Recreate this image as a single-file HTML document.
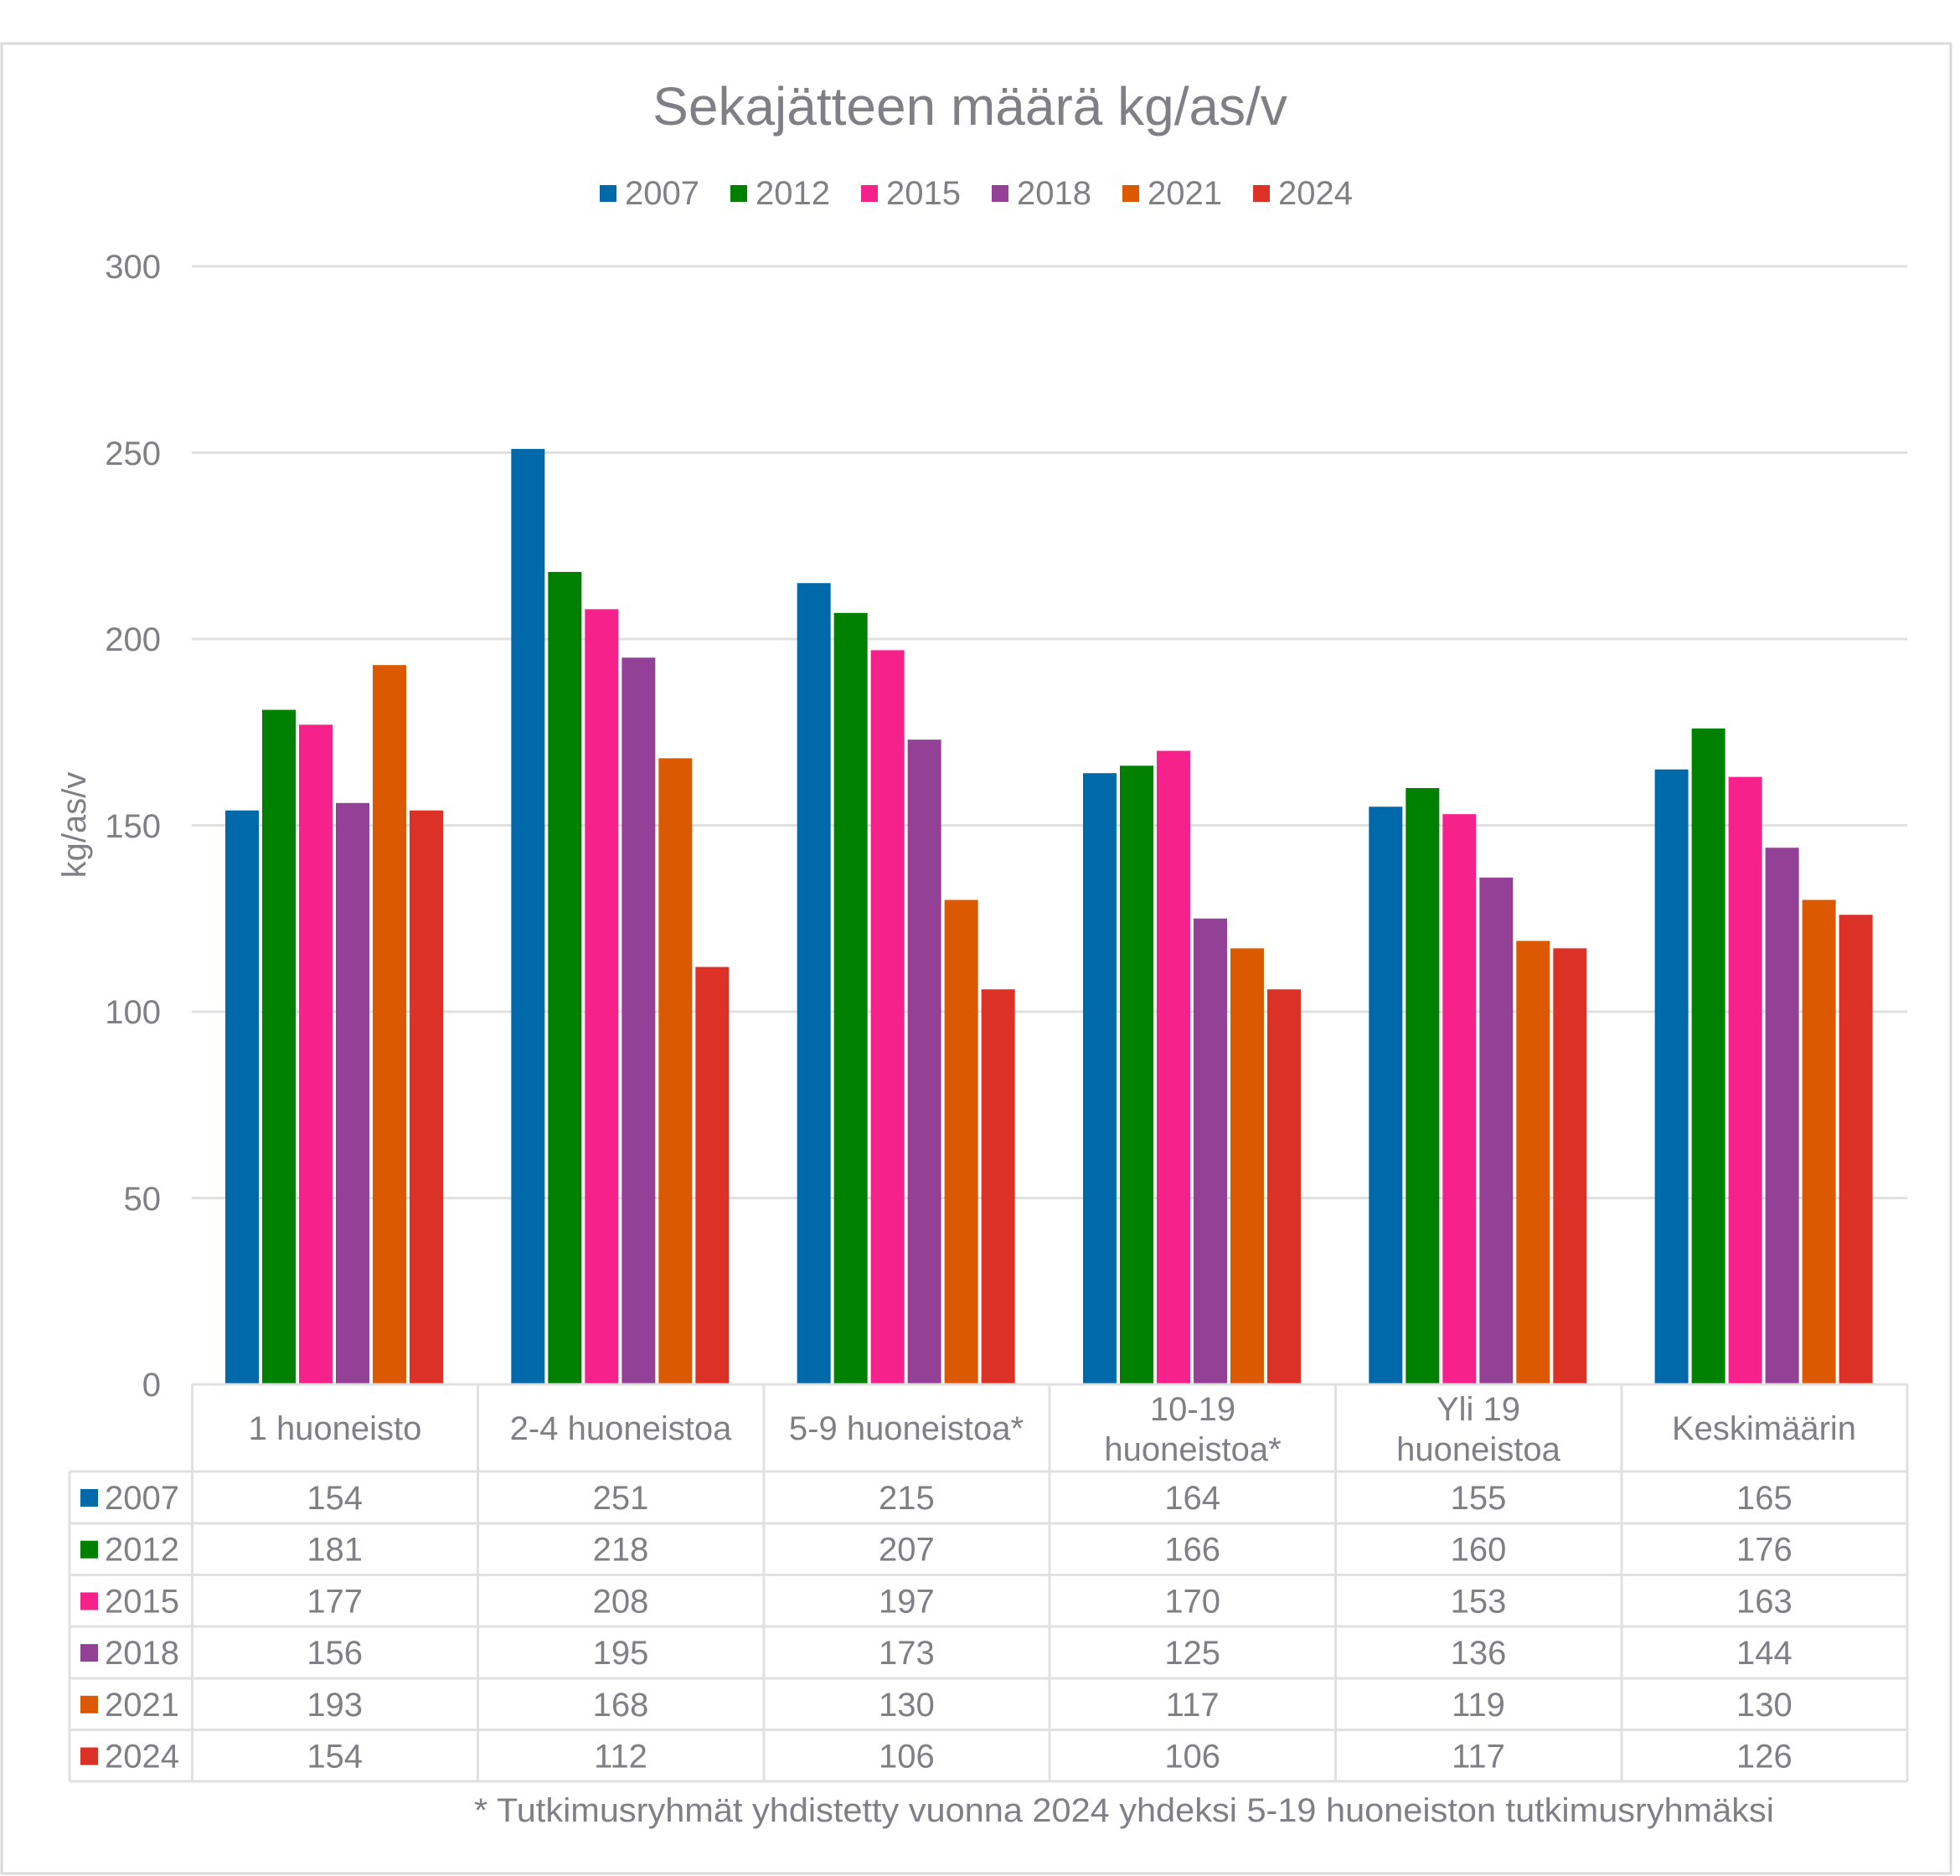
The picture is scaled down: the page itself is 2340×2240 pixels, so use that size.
<!DOCTYPE html>
<html><head><meta charset="utf-8"><style>
html,body{margin:0;padding:0;background:#fff;}
svg{display:block;}
text{font-family:"Liberation Sans",Arial,sans-serif;fill:#7f7f85;}
</style></head><body>
<svg width="2340" height="2240" viewBox="0 0 2340 2240" xmlns="http://www.w3.org/2000/svg">
<rect x="0" y="0" width="2340" height="2240" fill="#fff"/>
<rect x="2" y="52" width="2327" height="2185" fill="none" stroke="#d9d9d9" stroke-width="3"/>
<text x="1158" y="149" font-size="64" text-anchor="middle">Sekajätteen määrä kg/as/v</text>
<g font-size="40">
<rect x="716" y="221" width="20" height="20" fill="#0069aa"/><text x="746" y="244">2007</text>
<rect x="872" y="221" width="20" height="20" fill="#008000"/><text x="902" y="244">2012</text>
<rect x="1028" y="221" width="20" height="20" fill="#f7218b"/><text x="1058" y="244">2015</text>
<rect x="1184" y="221" width="20" height="20" fill="#924196"/><text x="1214" y="244">2018</text>
<rect x="1340" y="221" width="20" height="20" fill="#db5900"/><text x="1370" y="244">2021</text>
<rect x="1496" y="221" width="20" height="20" fill="#dc3126"/><text x="1526" y="244">2024</text>
</g>
<g stroke="#e0e0e0" stroke-width="3">
<line x1="229" y1="318" x2="2277" y2="318"/>
<line x1="229" y1="540.5" x2="2277" y2="540.5"/>
<line x1="229" y1="763" x2="2277" y2="763"/>
<line x1="229" y1="985.5" x2="2277" y2="985.5"/>
<line x1="229" y1="1208" x2="2277" y2="1208"/>
<line x1="229" y1="1430.5" x2="2277" y2="1430.5"/>
</g>
<g font-size="40" text-anchor="end">
<text x="192" y="332">300</text><text x="192" y="555">250</text><text x="192" y="777">200</text>
<text x="192" y="1000">150</text><text x="192" y="1222">100</text><text x="192" y="1445">50</text><text x="192" y="1667">0</text>
</g>
<text transform="translate(102,985) rotate(-90)" font-size="40" text-anchor="middle">kg/as/v</text>
<g id="bars"></g>
<g stroke="#e0e0e0" stroke-width="3" fill="none">
<line x1="229" y1="1653" x2="2277" y2="1653"/>
<line x1="83" y1="1757" x2="2277" y2="1757"/>
<line x1="83" y1="1819" x2="2277" y2="1819"/>
<line x1="83" y1="1880.5" x2="2277" y2="1880.5"/>
<line x1="83" y1="1942" x2="2277" y2="1942"/>
<line x1="83" y1="2004" x2="2277" y2="2004"/>
<line x1="83" y1="2065.5" x2="2277" y2="2065.5"/>
<line x1="83" y1="2127" x2="2277" y2="2127"/>
<line x1="83" y1="1757" x2="83" y2="2127"/>
<line x1="229.5" y1="1653" x2="229.5" y2="2127"/>
<line x1="570.5" y1="1653" x2="570.5" y2="2127"/>
<line x1="912" y1="1653" x2="912" y2="2127"/>
<line x1="1253" y1="1653" x2="1253" y2="2127"/>
<line x1="1594.5" y1="1653" x2="1594.5" y2="2127"/>
<line x1="1936" y1="1653" x2="1936" y2="2127"/>
<line x1="2277" y1="1653" x2="2277" y2="2127"/>
</g>
<g font-size="40" text-anchor="middle">
<text x="400" y="1719">1 huoneisto</text>
<text x="741" y="1719">2-4 huoneistoa</text>
<text x="1082" y="1719">5-9 huoneistoa*</text>
<text x="1424" y="1696">10-19</text><text x="1424" y="1744">huoneistoa*</text>
<text x="1765" y="1696">Yli 19</text><text x="1765" y="1744">huoneistoa</text>
<text x="2106" y="1719">Keskimäärin</text>
</g>
<g id="tbl" font-size="40"></g>
<text x="566" y="2175" font-size="40" textLength="1552" lengthAdjust="spacingAndGlyphs">* Tutkimusryhmät yhdistetty vuonna 2024 yhdeksi 5-19 huoneiston tutkimusryhmäksi</text>
<script>
var cols=["#0069aa","#008000","#f7218b","#924196","#db5900","#dc3126"];
var yrs=["2007","2012","2015","2018","2021","2024"];
var d=[[154,251,215,164,155,165],[181,218,207,166,160,176],[177,208,197,170,153,163],[156,195,173,125,136,144],[193,168,130,117,119,130],[154,112,106,106,117,126]];
var ns="http://www.w3.org/2000/svg",b=document.getElementById("bars"),t=document.getElementById("tbl");
for(var s=0;s<6;s++){for(var c=0;c<6;c++){var r=document.createElementNS(ns,"rect");var v=d[s][c];var x=229+c*341.33+40+s*44;
r.setAttribute("x",x);r.setAttribute("y",1653-v*4.45);r.setAttribute("width",40);r.setAttribute("height",v*4.45);r.setAttribute("fill",cols[s]);b.appendChild(r);
var tx=document.createElementNS(ns,"text");tx.setAttribute("x",229+c*341.33+170.7);tx.setAttribute("y",1802+s*61.7);tx.setAttribute("text-anchor","middle");tx.textContent=v;t.appendChild(tx);}
var q=document.createElementNS(ns,"rect");q.setAttribute("x",96);q.setAttribute("y",1778+s*61.7);q.setAttribute("width",21);q.setAttribute("height",21);q.setAttribute("fill",cols[s]);t.appendChild(q);
var ly=document.createElementNS(ns,"text");ly.setAttribute("x",125);ly.setAttribute("y",1802+s*61.7);ly.textContent=yrs[s];t.appendChild(ly);}
</script>
</svg>
</body></html>
